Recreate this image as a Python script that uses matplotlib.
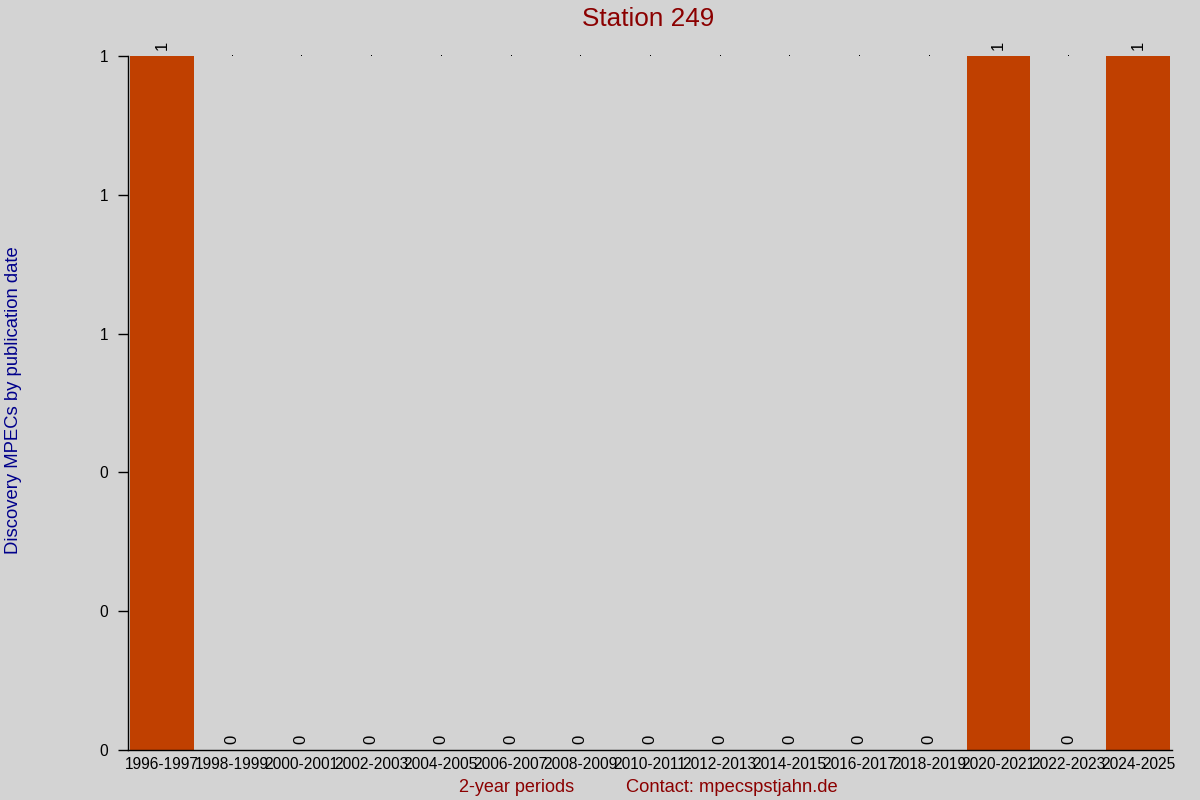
import matplotlib
matplotlib.use("Agg")
import matplotlib.pyplot as plt
import numpy as np

periods = ["1996-1997", "1998-1999", "2000-2001", "2002-2003", "2004-2005",
           "2006-2007", "2008-2009", "2010-2011", "2012-2013", "2014-2015",
           "2016-2017", "2018-2019", "2020-2021", "2022-2023", "2024-2025"]
counts = [1, 0, 0, 0, 0, 0, 0, 0, 0, 0, 0, 0, 1, 0, 1]

plt.rcParams['font.family'] = ['Liberation Sans', 'DejaVu Sans']
bg = '#d3d3d3'
fig = plt.figure(figsize=(12, 8), dpi=100, facecolor=bg)
ax = fig.add_axes([128/1200, 1-750/800, (1172-128)/1200, (750-56)/800])
ax.set_facecolor(bg)

x = np.arange(len(periods))
ax.bar(x, counts, width=0.91, color='#c04000', zorder=2)

for xi, v in zip(x, counts):
    ax.annotate(str(v), (xi, v), xytext=(0, 4), textcoords='offset points',
                rotation=90, ha='center', va='bottom', fontsize=12, color='black')
    if v == 0:
        ax.plot([xi], [1], marker=',', color='black', ls='none', clip_on=False)

ax.set_xlim(-0.485, len(periods) - 1 + 0.485)
ax.set_ylim(0, 1)
yt = [0, 0.2, 0.4, 0.6, 0.8, 1.0]
ax.set_yticks(yt)
ax.set_yticklabels([f"{t:.0f}" for t in yt])
ax.set_xticks(x)
ax.set_xticklabels(periods)
ax.tick_params(axis='x', length=0, pad=5, labelsize=11.2)
ax.tick_params(axis='y', length=7.2, width=1, pad=7, labelsize=11.2)
for s in ['top', 'right']:
    ax.spines[s].set_visible(False)
for s in ['left', 'bottom']:
    ax.spines[s].set_linewidth(1)
    ax.spines[s].set_color('black')

fig.text(0.54, 0.976, "Station 249", ha='center', va='center', fontsize=18.8, color='#8b0000')
fig.text(0.011, 0.5, "Discovery MPECs by publication date", rotation=90,
         ha='center', va='center', fontsize=13.3, color='#00008b')
fig.text(517/1200, 1-787/800, "2-year periods", ha='center', va='center', fontsize=13, color='#8b0000')
fig.text(732/1200, 1-787/800, "Contact: mpecspstjahn.de", ha='center', va='center', fontsize=13.2, color='#8b0000')

fig.savefig("out.png", dpi=100, facecolor=bg)
